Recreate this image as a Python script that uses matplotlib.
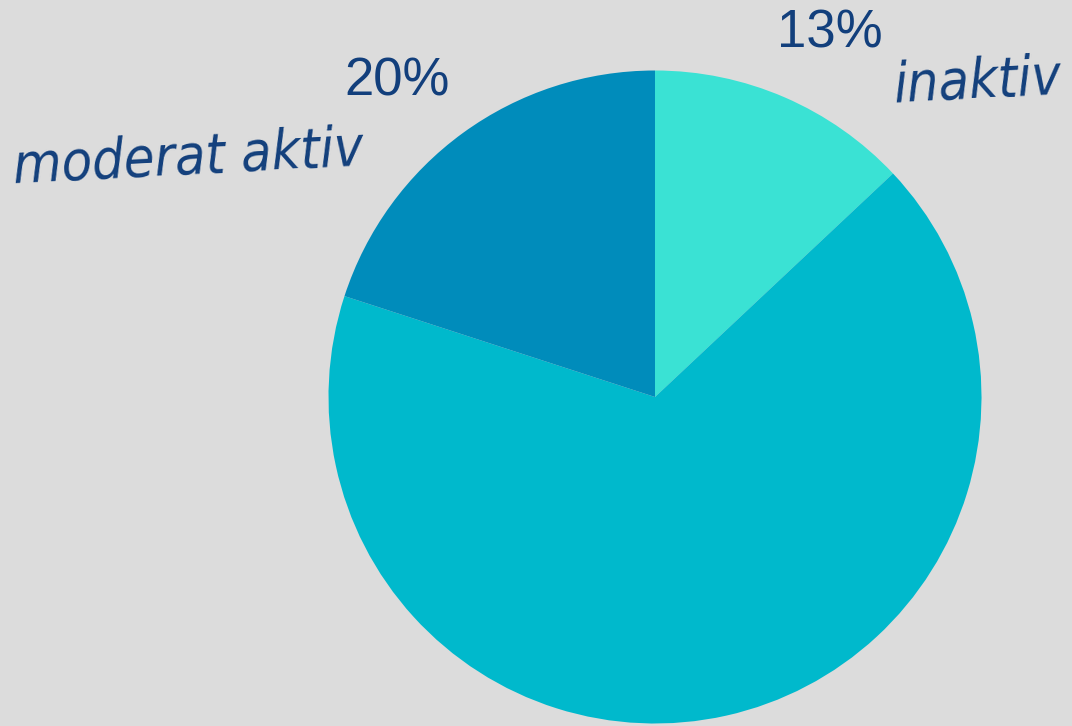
import matplotlib
matplotlib.use("Agg")
import matplotlib.pyplot as plt

labels = ["inaktiv", "", "moderat aktiv"]
values = [13, 67, 20]
pct_labels = ["13%", "", "20%"]
colors = ["#3ae2d4", "#00b9cc", "#008cbb"]

bg = "#dcdcdc"
txt = "#123f7c"

fig = plt.figure(figsize=(10.72, 7.26), dpi=100, facecolor=bg)
ax = fig.add_axes([0, 0, 1, 1])
ax.set_facecolor(bg)

R = 326.5
cx, cy = 655, 397
W, H = 1072, 726

ax.pie(values, colors=colors, startangle=90, counterclock=False,
       radius=1.0, wedgeprops=dict(linewidth=0))
ax.set_xlim(-cx / R, (W - cx) / R)
ax.set_ylim((cy - H) / R, cy / R)
ax.set_aspect("equal")
ax.axis("off")

def px(x, y):
    return (x - cx) / R, (cy - y) / R

# percent labels
ax.text(*px(397, 81), pct_labels[2], ha="center", va="center", fontsize=38,
        color=txt, family="Liberation Sans")
ax.text(*px(830, 33), pct_labels[0], ha="center", va="center", fontsize=38,
        color=txt, family="Liberation Sans")

# category labels (handwritten look)
hand = dict(color=txt, style="italic", family="DejaVu Sans", stretch="condensed",
            fontweight="normal")
ax.text(*px(188, 158), labels[2], ha="center", va="center", fontsize=40,
        rotation=3, **hand)
ax.text(*px(977, 82), labels[0], ha="center", va="center", fontsize=40,
        rotation=3, **hand)

fig.savefig("out.png", dpi=100, facecolor=bg)
